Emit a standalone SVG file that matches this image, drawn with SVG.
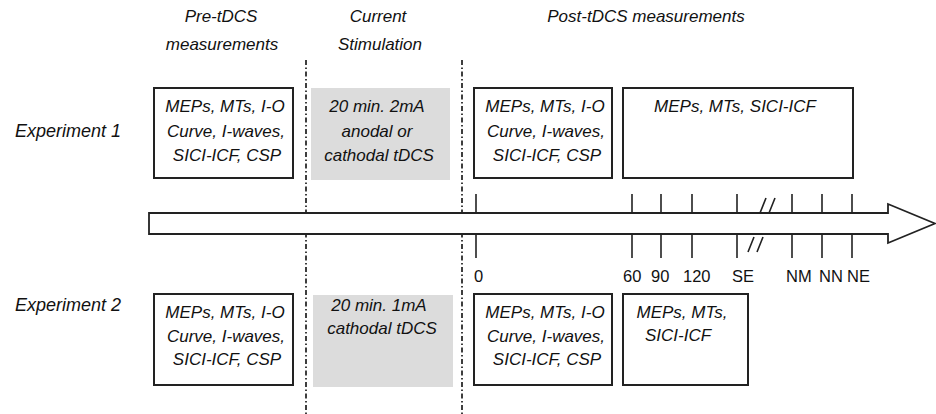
<svg xmlns="http://www.w3.org/2000/svg" width="936" height="414" viewBox="0 0 936 414">
  <style>
    .it { font-family: "Liberation Sans", Arial, Helvetica, sans-serif; font-style: italic; font-size: 17px; fill: #111111; }
    .lbl { font-family: "Liberation Sans", Arial, Helvetica, sans-serif; font-size: 16.5px; fill: #111111; }
    .mid { text-anchor: middle; }
    .box { fill: #ffffff; stroke: #222222; stroke-width: 2; }
    .stim { fill: #dcdcdc; stroke: none; }
    .div { stroke: #2a2a2a; stroke-width: 1.8; stroke-dasharray: 5 2.5 1.5 2.5; fill: none; }
    .tick { stroke: #222222; stroke-width: 1.6; fill: none; }
    .axis { fill: #ffffff; stroke: #222222; stroke-width: 1.8; stroke-linejoin: miter; }
  </style>
  <rect width="936" height="414" fill="#ffffff"/>

  <!-- column headings -->
  <g id="headings">
    <text class="it mid" x="221" y="22">Pre-tDCS</text>
    <text class="it mid" x="222" y="50">measurements</text>
    <text class="it mid" x="378" y="22">Current</text>
    <text class="it mid" x="380" y="50">Stimulation</text>
    <text class="it mid" x="646" y="22">Post-tDCS measurements</text>
  </g>

  <!-- row labels -->
  <g id="row-labels">
    <text class="it" x="15" y="137" style="font-size:18px">Experiment 1</text>
    <text class="it" x="15" y="311" style="font-size:18px">Experiment 2</text>
  </g>

  <!-- dividers, timeline and ticks -->
  <g id="connectors">
    <line class="div" x1="306" y1="60" x2="306" y2="414"/>
    <line class="div" x1="462" y1="60" x2="462" y2="414"/>
    <polygon class="axis" points="149,213 888,213 888,204 935,223.5 888,243 888,234 149,234"/>
    <!-- ticks above the bar -->
    <path class="tick" d="M476 194V213 M632 194V213 M661 194V213 M692 194V213 M737 194V213 M792 194V213 M822 194V213 M852 194V213"/>
    <!-- ticks below the bar -->
    <path class="tick" d="M476 234V258 M632 234V258 M661 234V258 M692 234V258 M737 234V258 M792 234V258 M822 234V258 M852 234V258"/>
    <!-- axis break marks -->
    <path class="tick" d="M760 213L766 198 M769 213L775 198 M748 252L754 237 M757 252L763 237"/>
  </g>

  <!-- time labels -->
  <g id="time-labels">
    <text class="lbl" x="474" y="282">0</text>
    <text class="lbl" x="623" y="282">60</text>
    <text class="lbl" x="651" y="282">90</text>
    <text class="lbl" x="683" y="282">120</text>
    <text class="lbl" x="732" y="282">SE</text>
    <text class="lbl" x="786" y="282">NM</text>
    <text class="lbl" x="819" y="282">NN</text>
    <text class="lbl" x="847" y="282">NE</text>
  </g>

  <!-- Experiment 1 -->
  <g id="exp1-pre">
    <rect class="box" x="154" y="88" width="139" height="90"/>
    <text class="it mid" x="225" y="112">MEPs, MTs, I-O</text>
    <text class="it mid" x="226" y="137">Curve, I-waves,</text>
    <text class="it mid" x="227" y="161">SICI-ICF, CSP</text>
  </g>
  <g id="exp1-stim">
    <rect class="stim" x="311" y="88" width="139" height="92"/>
    <text class="it mid" x="377" y="112">20 min. 2mA</text>
    <text class="it mid" x="377" y="137">anodal or</text>
    <text class="it mid" x="379" y="161">cathodal tDCS</text>
  </g>
  <g id="exp1-post">
    <rect class="box" x="474" y="88" width="138" height="90"/>
    <text class="it mid" x="545" y="112">MEPs, MTs, I-O</text>
    <text class="it mid" x="546" y="137">Curve, I-waves,</text>
    <text class="it mid" x="547" y="161">SICI-ICF, CSP</text>
  </g>
  <g id="exp1-followup">
    <rect class="box" x="623" y="88" width="230" height="90"/>
    <text class="it mid" x="735" y="112">MEPs, MTs, SICI-ICF</text>
  </g>

  <!-- Experiment 2 -->
  <g id="exp2-pre">
    <rect class="box" x="154" y="294" width="139" height="91"/>
    <text class="it mid" x="225" y="318">MEPs, MTs, I-O</text>
    <text class="it mid" x="226" y="342">Curve, I-waves,</text>
    <text class="it mid" x="227" y="365">SICI-ICF, CSP</text>
  </g>
  <g id="exp2-stim">
    <rect class="stim" x="313" y="295" width="140" height="92"/>
    <text class="it mid" x="379" y="311">20 min. 1mA</text>
    <text class="it mid" x="382" y="334">cathodal tDCS</text>
  </g>
  <g id="exp2-post">
    <rect class="box" x="474" y="294" width="138" height="91"/>
    <text class="it mid" x="545" y="318">MEPs, MTs, I-O</text>
    <text class="it mid" x="546" y="342">Curve, I-waves,</text>
    <text class="it mid" x="547" y="365">SICI-ICF, CSP</text>
  </g>
  <g id="exp2-followup">
    <rect class="box" x="623" y="294" width="125" height="91"/>
    <text class="it mid" x="682" y="318">MEPs, MTs,</text>
    <text class="it" x="645" y="341">SICI-ICF</text>
  </g>
</svg>
